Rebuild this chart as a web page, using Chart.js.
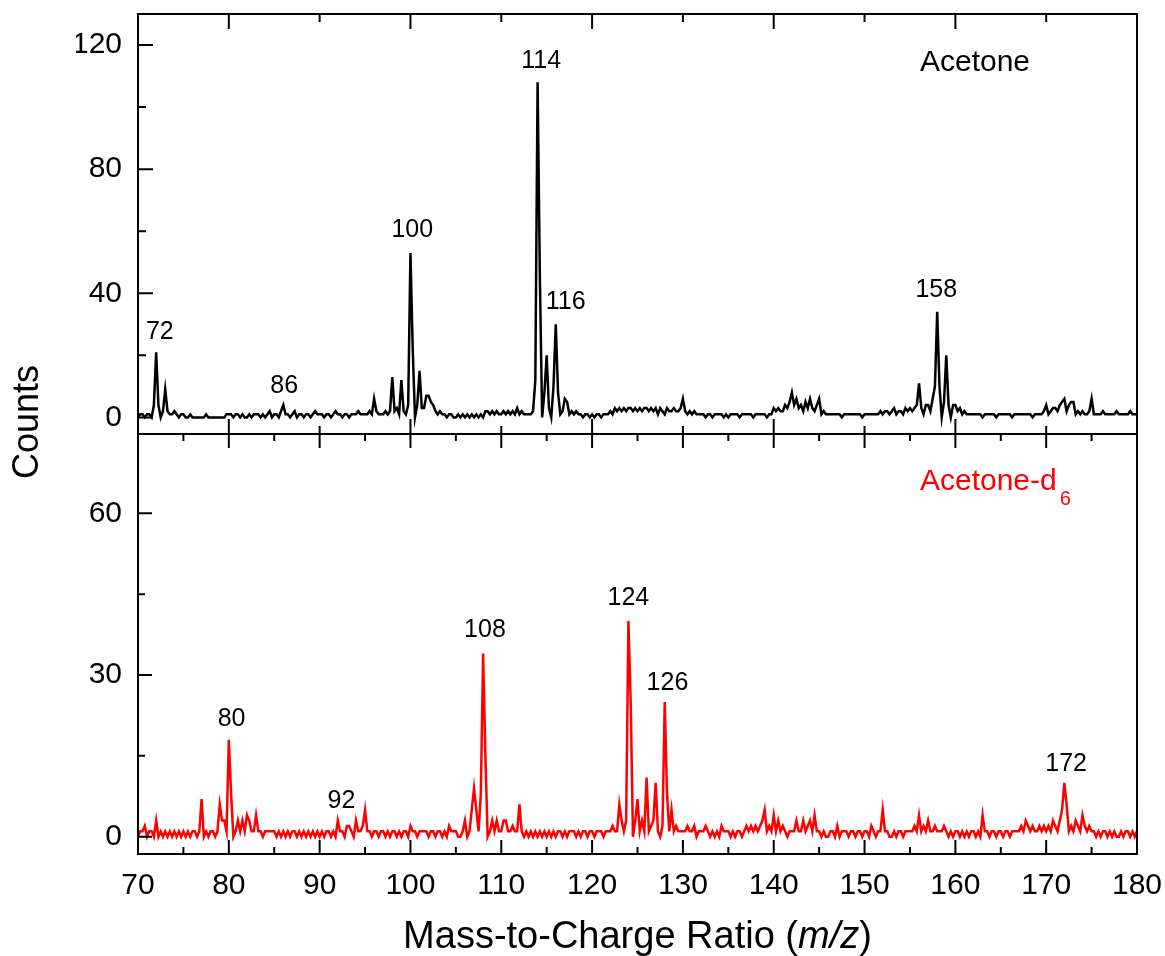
<!DOCTYPE html>
<html>
<head>
<meta charset="utf-8">
<script src="https://cdn.jsdelivr.net/npm/chart.js@4.4.1/dist/chart.umd.min.js"></script>
<style>
  html, body { margin: 0; padding: 0; background: #fff; }
</style>
</head>
<body>
<canvas id="spectrum" width="1165" height="956"></canvas>
<script>
// m/z sampled every 0.25 from 70 to 180
let mzStart = 70
let mzStep = 0.25

// Acetone (top panel), one row = 10 m/z units
let acetone = [
  0,1,1,0, 1,1,0,4, 21,4,0,2, 9,2,1,1, 2,1,0,1, 1,0,0,1, 0,0,0,0, 0,0,1,0, 0,0,0,0, 0,0,0,1,       // 70
  1,1,0,1, 1,0,1,0, 0,1,0,1, 1,1,0,1, 0,1,2,0, 1,1,0,2, 4,1,1,0, 1,2,0,1, 1,0,1,1, 0,1,2,1,       // 80
  1,1,0,1, 1,0,1,2, 1,1,0,1, 1,0,1,1, 1,2,1,1, 1,1,2,1, 6,2,1,1, 1,2,1,2, 13,2,3,1, 12,2,1,4,     // 90
  53,22,0,4, 15,3,3,7, 7,5,4,2, 1,2,1,1, 0,1,1,0, 0,1,0,1, 0,1,0,1, 0,1,0,1, 0,2,2,1, 2,1,2,1,    // 100
  1,2,1,2, 1,2,1,3, 1,2,1,1, 1,1,2,12, 108,45,0,8, 20,3,0,10, 30,8,1,2, 6,5,1,2, 1,2,1,1, 0,1,1,0, // 110
  1,0,1,1, 0,1,1,1, 2,1,3,2, 3,2,3,2, 3,3,2,3, 2,3,2,3, 3,2,3,2, 3,1,3,2, 1,3,2,2, 3,2,2,3,       // 120
  6,2,1,2, 1,2,1,1, 1,1,0,1, 1,0,1,1, 1,1,0,1, 0,1,1,1, 1,0,1,1, 1,1,1,0, 1,1,1,1, 1,0,1,1,       // 130
  3,2,3,2, 2,4,3,5, 8,4,6,3, 4,2,5,3, 6,3,2,4, 6,1,2,1, 1,1,1,1, 1,1,0,1, 1,1,1,1, 1,1,1,0,       // 140
  1,1,1,1, 1,1,1,2, 1,2,2,1, 2,3,1,2, 2,1,3,2, 3,2,3,4, 11,3,1,4, 4,2,6,10, 34,10,0,5, 20,4,0,4,  // 150
  4,2,3,1, 2,1,1,1, 1,1,1,1, 0,1,1,1, 1,1,0,1, 1,1,1,1, 1,0,1,1, 1,1,1,1, 1,1,0,1, 1,1,1,2,       // 160
  4,1,2,3, 3,2,4,5, 6,2,4,5, 5,1,2,1, 2,1,1,2, 6,1,1,1, 1,2,1,1, 1,1,1,2, 1,1,1,1, 1,2,1,1,       // 170
  1                                                                                               // 180
]

// Acetone-d6 (bottom panel)
let acetoneD6 = [
  0,1,1,2, 0,1,1,0, 3,0,1,0, 1,0,1,0, 1,0,1,0, 1,0,1,0, 1,1,0,1, 7,0,1,0, 1,1,0,1, 6,3,3,1,       // 70
  18,8,0,1, 3,1,3,1, 4,3,1,1, 4,1,1,0, 1,1,1,1, 1,0,1,0, 1,0,1,0, 1,1,0,1, 0,1,0,1, 0,1,0,1,      // 80
  0,1,0,1, 1,0,1,0, 3,1,1,0, 2,2,1,0, 3,1,1,2, 5,1,1,0, 1,1,0,1, 1,0,1,0, 1,1,0,1, 0,1,1,0,       // 90
  2,1,1,0, 1,1,1,1, 0,1,1,0, 1,1,0,1, 0,2,1,1, 1,0,0,1, 3,0,1,5, 9,5,1,8, 34,15,0,1, 3,1,3,1,     // 100
  1,3,3,1, 1,2,1,1, 6,1,0,1, 0,1,0,1, 0,1,0,1, 0,1,0,1, 0,1,1,0, 1,0,1,1, 1,0,1,0, 1,1,0,1,       // 110
  1,0,1,1, 1,0,1,1, 1,2,1,1, 6,3,1,3, 40,25,0,3, 7,1,3,1, 11,1,2,3, 10,1,0,2, 25,8,1,5, 1,2,1,1,  // 120
  1,1,2,1, 1,2,0,1, 1,1,2,1, 0,1,0,1, 0,2,1,1, 1,0,1,0, 1,1,0,1, 2,1,2,1, 2,1,2,3, 5,1,2,1,       // 130
  4,1,3,1, 2,1,0,1, 1,1,3,1, 1,3,1,2, 3,1,4,1, 1,0,1,0, 0,1,1,0, 2,0,1,1, 1,0,1,1, 0,1,1,0,       // 140
  1,1,0,2, 1,0,1,1, 5,1,1,0, 0,1,0,1, 1,0,1,1, 1,1,2,1, 4,1,2,1, 3,1,1,2, 1,1,1,2, 1,0,1,0,       // 150
  1,1,0,1, 0,1,0,1, 1,0,1,0, 4,1,1,0, 1,1,0,1, 1,0,1,1, 0,1,1,1, 1,2,1,3, 2,1,2,1, 1,2,1,2,       // 160
  1,2,1,3, 2,1,3,5, 10,6,1,2, 1,3,2,1, 4,2,1,2, 1,1,0,1, 0,1,1,0, 1,0,1,0, 0,1,0,1, 1,0,1,0,      // 170
  1                                                                                               // 180
]

let xTicks = [70, 80, 90, 100, 110, 120, 130, 140, 150, 160, 170, 180]
let topTicks = [0, 40, 80, 120]
let topMinor = [20, 60, 100]
let bottomTicks = [0, 30, 60]
let bottomMinor = [15, 45]

// peak annotations: text, m/z, counts
let topPeaks = [['72', 72.4, 27.6], ['86', 86.1, 10.2], ['100', 100.2, 60.5], ['114', 114.4, 114.7], ['116', 117.1, 37], ['158', 157.9, 40.9]]
let bottomPeaks = [['80', 80.3, 21.8], ['92', 92.4, 6.6], ['108', 108.2, 38.3], ['124', 124.0, 44.3], ['126', 128.3, 28.5], ['172', 172.2, 13.5]]

const fontFamily = "'Liberation Sans', Arial, Helvetica, sans-serif"

function toPoints(values) {
  return values.map((v, i) => ({ x: mzStart + i * mzStep, y: v }))
}

// frame, inward ticks and text that chart.js has no option for
const decor = {
  id: 'decor',
  afterDraw(chart) {
    const { ctx, chartArea: area, scales } = chart
    const x = scales.x, yT = scales.yTop, yB = scales.yBot
    const mid = yT.bottom
    const seg = (x1, y1, x2, y2) => { ctx.moveTo(x1, y1); ctx.lineTo(x2, y2) }

    ctx.save()
    ctx.strokeStyle = '#000'
    ctx.lineWidth = 2
    ctx.beginPath()
    ctx.rect(area.left, area.top, area.right - area.left, area.bottom - area.top)
    seg(area.left, mid, area.right, mid)

    for (let v = 75; v < 180; v += 5) {
      const px = x.getPixelForValue(v)
      const ten = v % 10 === 0
      seg(px, area.bottom, px, area.bottom - (ten ? 14 : 7))
      seg(px, mid, px, mid + (ten ? 14 : 7))
      if (ten) {
        const twenty = v % 20 === 0
        seg(px, area.top, px, area.top + (twenty ? 15 : 8))
        seg(px, mid, px, mid - (twenty ? 15 : 8))
      }
    }
    topTicks.forEach(v => { const py = yT.getPixelForValue(v); seg(area.left, py, area.left + 15, py) })
    topMinor.forEach(v => { const py = yT.getPixelForValue(v); seg(area.left, py, area.left + 8, py) })
    bottomTicks.forEach(v => { const py = yB.getPixelForValue(v); seg(area.left, py, area.left + 14, py) })
    bottomMinor.forEach(v => { const py = yB.getPixelForValue(v); seg(area.left, py, area.left + 7, py) })
    ctx.stroke()

    // peak labels
    ctx.fillStyle = '#000'
    ctx.textAlign = 'center'
    ctx.textBaseline = 'middle'
    ctx.font = '25px ' + fontFamily
    topPeaks.forEach(p => ctx.fillText(p[0], x.getPixelForValue(p[1]), yT.getPixelForValue(p[2])))
    bottomPeaks.forEach(p => ctx.fillText(p[0], x.getPixelForValue(p[1]), yB.getPixelForValue(p[2])))

    // sample names
    ctx.textAlign = 'left'
    ctx.font = '30px ' + fontFamily
    const nameX = x.getPixelForValue(156.1)
    ctx.fillText('Acetone', nameX, yT.getPixelForValue(114.4))
    ctx.fillStyle = '#ff0000'
    const dy = yB.getPixelForValue(65.8)
    ctx.fillText('Acetone-d', nameX, dy)
    const w = ctx.measureText('Acetone-d').width
    ctx.font = '20px ' + fontFamily
    ctx.fillText('6', nameX + w + 3, dy + 17)

    // axis titles
    ctx.fillStyle = '#000'
    ctx.textBaseline = 'alphabetic'
    const parts = [['Mass-to-Charge Ratio (', 'normal'], ['m/z', 'italic'], [')', 'normal']]
    let total = 0
    parts.forEach(p => { ctx.font = p[1] + ' 38px ' + fontFamily; total += ctx.measureText(p[0]).width })
    let tx = (area.left + area.right) / 2 - total / 2
    parts.forEach(p => {
      ctx.font = p[1] + ' 38px ' + fontFamily
      ctx.fillText(p[0], tx, 948)
      tx += ctx.measureText(p[0]).width
    })

    ctx.translate(28, 422)
    ctx.rotate(-Math.PI / 2)
    ctx.textAlign = 'center'
    ctx.textBaseline = 'middle'
    ctx.font = '36px ' + fontFamily
    ctx.fillText('Counts', 0, 0)
    ctx.restore()
  }
}

let tickFont = { family: fontFamily, size: 30 }

function fitY(s) {
  s.width = 62
  s.paddingTop = 0
  s.paddingBottom = 0
}

let spectrum = new Chart(document.querySelector('#spectrum').getContext('2d'), {
  type: 'line',
  data: {
    datasets: [{
      label: 'Acetone',
      data: toPoints(acetone),
      yAxisID: 'yTop',
      borderColor: '#000000',
      borderWidth: 2.5,
      pointRadius: 0,
      tension: 0
    }, {
      label: 'Acetone-d6',
      data: toPoints(acetoneD6),
      yAxisID: 'yBot',
      borderColor: '#ff0000',
      borderWidth: 2.5,
      pointRadius: 0,
      tension: 0
    }]
  },
  options: {
    responsive: false,
    animation: false,
    events: [],
    layout: { padding: { left: 76, right: 28, top: 14, bottom: 0 } },
    plugins: { legend: { display: false }, tooltip: { enabled: false } },
    scales: {
      x: {
        type: 'linear',
        position: 'bottom',
        min: 70,
        max: 180,
        afterFit: s => { s.height = 102; s.paddingLeft = 0; s.paddingRight = 0 },
        afterBuildTicks: s => { s.ticks = xTicks.map(v => ({ value: v })) },
        ticks: { font: tickFont, color: '#000', padding: 14, maxRotation: 0, autoSkip: false },
        grid: { display: false, drawTicks: false },
        border: { display: false }
      },
      // left boxes are stacked in reverse order, so the lower panel comes first
      yBot: {
        type: 'linear',
        position: 'left',
        stack: 'panels',
        stackWeight: 1,
        min: -3.2,
        max: 74.7,
        afterFit: fitY,
        afterBuildTicks: s => { s.ticks = bottomTicks.map(v => ({ value: v })) },
        ticks: { font: tickFont, color: '#000', padding: 16 },
        grid: { display: false, drawTicks: false },
        border: { display: false }
      },
      yTop: {
        type: 'linear',
        position: 'left',
        stack: 'panels',
        stackWeight: 1,
        min: -5.35,
        max: 130,
        afterFit: fitY,
        afterBuildTicks: s => { s.ticks = topTicks.map(v => ({ value: v })) },
        ticks: { font: tickFont, color: '#000', padding: 16 },
        grid: { display: false, drawTicks: false },
        border: { display: false }
      }
    }
  },
  plugins: [decor]
})
</script>
</body>
</html>
